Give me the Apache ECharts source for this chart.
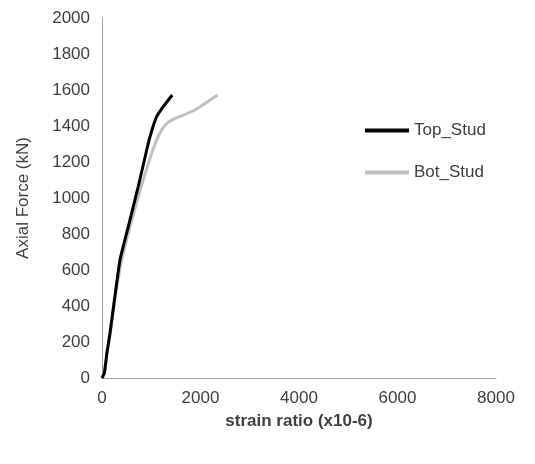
<!DOCTYPE html>
<html><head><meta charset="utf-8">
<script src="https://cdn.jsdelivr.net/npm/echarts@6/dist/echarts.min.js"></script>
<style>body{margin:0}#c{width:535px;height:464px}</style>
</head><body><div id="c"></div>
<script>
var topStud = [[0,0],[47,26],[100,140],[162,250],[260,450],[365,656],[533,840],[736,1063],[939,1304],[1040,1400],[1110,1452],[1243,1507],[1426,1572]];
var botStud = [[0,0],[47,26],[100,140],[170,250],[270,450],[400,656],[736,1007],[1008,1248],[1120,1330],[1211,1378],[1300,1410],[1414,1433],[1886,1489],[2347,1572]];
var chart = echarts.init(document.getElementById('c'));
var font = 'Liberation Sans, Arial, sans-serif';
chart.setOption({
    animation: false,
    textStyle: {fontFamily: font},
    grid: {left: 102, right: 39, top: 18, bottom: 86},
    legend: {
        orient: 'vertical', left: 360, top: 117, itemWidth: 44, itemHeight: 4, itemGap: 25,
        icon: 'rect',
        textStyle: {fontSize: 17, color: '#404040', fontFamily: font},
        data: ['Top_Stud', 'Bot_Stud']
    },
    xAxis: {
        type: 'value', min: 0, max: 8000, interval: 2000,
        name: 'strain ratio (x10-6)', nameLocation: 'middle', nameGap: 35,
        nameTextStyle: {fontSize: 17, color: '#404040', fontWeight: 'bold'},
        axisLine: {show: true, lineStyle: {color: '#a0a0a0'}},
        axisTick: {show: false}, splitLine: {show: false},
        axisLabel: {fontSize: 17, color: '#404040', margin: 12, formatter: function (v) { return String(v); }}
    },
    yAxis: {
        type: 'value', min: 0, max: 2000, interval: 200,
        name: 'Axial Force (kN)', nameLocation: 'middle', nameGap: 70,
        nameTextStyle: {fontSize: 17, color: '#404040'},
        axisLine: {show: true, lineStyle: {color: '#a0a0a0'}},
        axisTick: {show: false}, splitLine: {show: false},
        axisLabel: {fontSize: 17, color: '#404040', margin: 12, formatter: function (v) { return String(v); }}
    },
    series: [
        {name: 'Top_Stud', type: 'line', data: topStud, smooth: 0.15, showSymbol: false,
         itemStyle: {color: '#000000'}, lineStyle: {width: 3, color: '#000000'}, z: 3},
        {name: 'Bot_Stud', type: 'line', data: botStud, smooth: 0.15, showSymbol: false,
         itemStyle: {color: '#c0c0c0'}, lineStyle: {width: 3, color: '#c0c0c0'}, z: 2}
    ]
});
</script></body></html>
